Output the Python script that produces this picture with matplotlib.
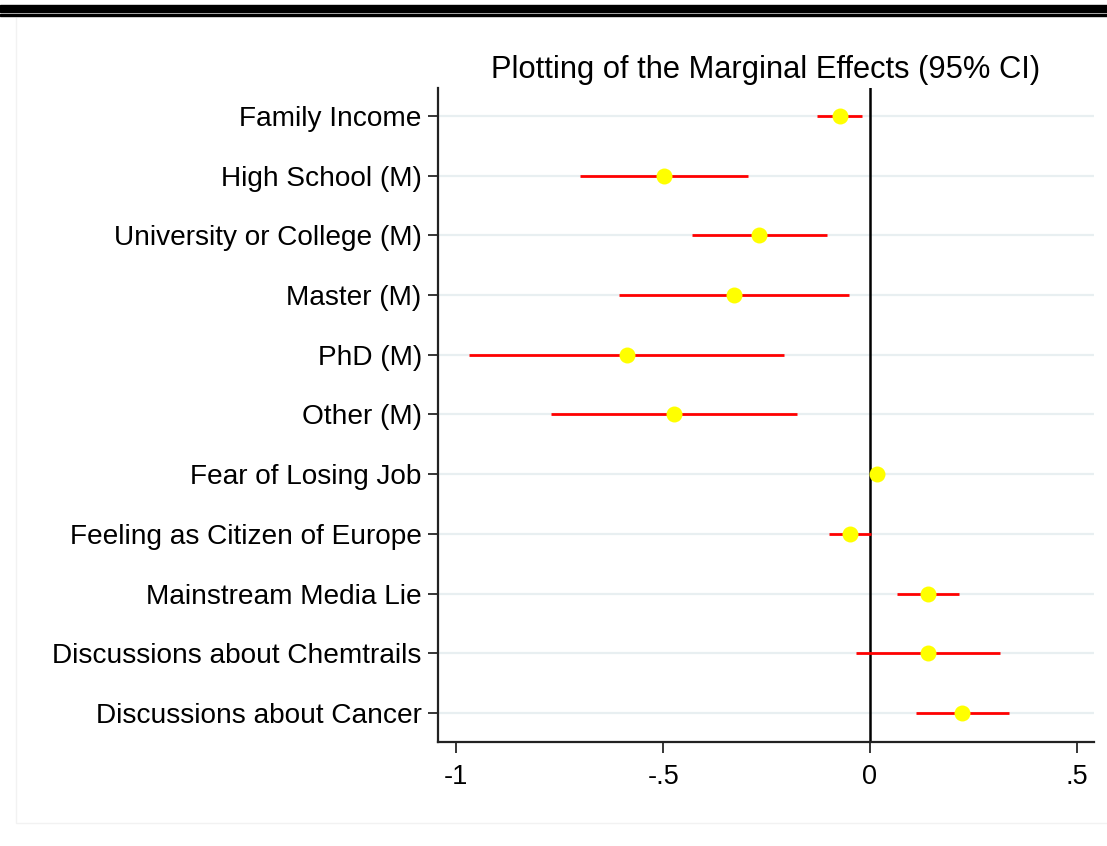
import numpy as np
import matplotlib
matplotlib.use("Agg")
import matplotlib.pyplot as plt
from matplotlib.patches import Rectangle
from matplotlib.lines import Line2D

plt.rcParams['font.family'] = ['Liberation Sans', 'DejaVu Sans']

# marginal effects
labels = ['Family Income', 'High School (M)', 'University or College (M)',
          'Master (M)', 'PhD (M)', 'Other (M)', 'Fear of Losing Job',
          'Feeling as Citizen of Europe', 'Mainstream Media Lie',
          'Discussions about Chemtrails', 'Discussions about Cancer']
est = [-0.072, -0.498, -0.268, -0.329, -0.588, -0.474, 0.017, -0.048, 0.140, 0.140, 0.222]
ci_lo = [-0.128, -0.701, -0.430, -0.607, -0.970, -0.771, 0.011, -0.099, 0.065, -0.034, 0.111]
ci_hi = [-0.019, -0.295, -0.104, -0.051, -0.208, -0.177, 0.023, 0.002, 0.215, 0.314, 0.336]
xticks = [-1, -0.5, 0, 0.5]
xticklabels = ['-1', '-.5', '0', '.5']

W, H = 1107, 846
fig = plt.figure(figsize=(W / 100, H / 100), dpi=100)

# document-style border at the top + faint outer frame
fig.patches.append(Rectangle((0, 1 - 12.5 / H), 1, 7.5 / H, transform=fig.transFigure,
                             color='black', zorder=5))
fig.patches.append(Rectangle((0, 1 - 16 / H), 1, 2 / H, transform=fig.transFigure,
                             color='black', zorder=5))
fig.lines.append(Line2D([15.5 / W, 15.5 / W, 1], [1 - 18 / H, 1 - 823 / H, 1 - 823 / H],
                        transform=fig.transFigure, color='#f2f2f2', lw=1, zorder=0))

ax = fig.add_axes([438 / W, 1 - 742 / H, (1094 - 438) / W, (742 - 88) / H])

y = np.arange(len(labels))
for yy in y:
    ax.axhline(yy, color='#e8eff1', lw=1.6, zorder=0)
ax.axvline(0, color='black', lw=1.8, zorder=1)
ax.hlines(y, ci_lo, ci_hi, color='#ff0000', lw=2, zorder=2)
ax.plot(est, y, 'o', color='#ffff00', markersize=11.5, markeredgewidth=0, zorder=3)

ax.set_xlim(-1.0445, 0.5416)
ax.set_ylim(10.486, -0.469)
ax.set_yticks(y)
ax.set_yticklabels(labels, fontsize=20.2)
ax.set_xticks(xticks)
ax.set_xticklabels(xticklabels, fontsize=19.5)
ax.tick_params(axis='y', length=7.2, width=1.1, pad=4.5)
ax.tick_params(axis='x', length=8, width=1.1, pad=8)

for s in ['top', 'right']:
    ax.spines[s].set_visible(False)
for s in ['left', 'bottom']:
    ax.spines[s].set_linewidth(1.6)
    ax.spines[s].set_color('#222222')

ax.set_title('Plotting of the Marginal Effects (95% CI)', fontsize=22.2, pad=7)

fig.savefig('out.png', dpi=100)
